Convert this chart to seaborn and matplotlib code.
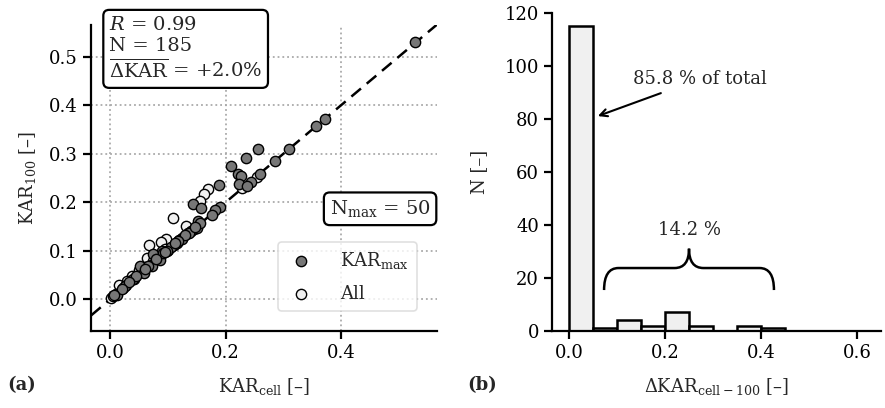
import numpy as np
import pandas as pd
import matplotlib
matplotlib.use('Agg')
import matplotlib.pyplot as plt
from matplotlib.path import Path
from matplotlib.patches import PathPatch
import seaborn as sns

# KAR_max points (one per sample)
kar_max_cell = [0.528, 0.372, 0.357, 0.310, 0.286, 0.256, 0.235, 0.210, 0.221, 0.227,
                0.223, 0.244, 0.260, 0.237, 0.189, 0.190, 0.182, 0.176, 0.143, 0.158,
                0.153, 0.150, 0.137, 0.124, 0.110, 0.089, 0.075, 0.087, 0.072, 0.052,
                0.058, 0.040, 0.026, 0.012, 0.155, 0.147, 0.130, 0.118, 0.105, 0.098,
                0.092, 0.080, 0.065, 0.045, 0.033, 0.020, 0.007, 0.113, 0.095, 0.060]
kar_max_100 = [0.530, 0.372, 0.357, 0.310, 0.286, 0.310, 0.292, 0.276, 0.259, 0.254,
               0.238, 0.243, 0.259, 0.233, 0.235, 0.191, 0.185, 0.175, 0.197, 0.189,
               0.161, 0.148, 0.137, 0.125, 0.112, 0.099, 0.093, 0.082, 0.069, 0.069,
               0.055, 0.041, 0.027, 0.010, 0.158, 0.150, 0.133, 0.121, 0.108, 0.100,
               0.095, 0.083, 0.068, 0.048, 0.036, 0.022, 0.009, 0.116, 0.098, 0.063]

# all cell points (mostly hidden behind KAR_max)
all_cell = [0.109, 0.170, 0.163, 0.156, 0.131, 0.097, 0.088, 0.068, 0.063, 0.037,
            0.016, 0.002, 0.254, 0.229, 0.050, 0.030, 0.075, 0.082, 0.120, 0.140,
            0.010, 0.022, 0.042, 0.055, 0.070, 0.085, 0.100, 0.115, 0.125, 0.135,
            0.145, 0.005, 0.028, 0.060, 0.095]
all_100 = [0.168, 0.228, 0.217, 0.203, 0.151, 0.125, 0.118, 0.113, 0.085, 0.049,
           0.029, 0.003, 0.252, 0.230, 0.060, 0.038, 0.080, 0.090, 0.122, 0.142,
           0.011, 0.023, 0.043, 0.056, 0.071, 0.086, 0.101, 0.116, 0.126, 0.136,
           0.146, 0.006, 0.030, 0.066, 0.103]

stats_r = 0.99
stats_n = 185
stats_dkar = 2.0
n_max = 50

# histogram of Delta KAR (bin centres, width 0.05)
bin_center = [0.025, 0.075, 0.125, 0.175, 0.225, 0.275, 0.325, 0.375, 0.425]
bin_count = [115, 1, 4, 2, 7, 2, 0, 2, 1]
bin_width = 0.05
pct_main = 85.8
pct_rest = 14.2

sns.set_theme(style='ticks')
plt.rcParams['font.family'] = ['DejaVu Serif']
plt.rcParams['mathtext.fontset'] = 'dejavuserif'
plt.rcParams['font.size'] = 13
plt.rcParams['axes.linewidth'] = 1.6
plt.rcParams['xtick.major.width'] = 1.6
plt.rcParams['ytick.major.width'] = 1.6
plt.rcParams['xtick.major.size'] = 6
plt.rcParams['ytick.major.size'] = 6
plt.rcParams['xtick.labelsize'] = 13
plt.rcParams['ytick.labelsize'] = 13
plt.rcParams['axes.labelsize'] = 13
plt.rcParams['xtick.color'] = 'black'
plt.rcParams['ytick.color'] = 'black'
plt.rcParams['axes.edgecolor'] = 'black'

fig = plt.figure(figsize=(8.85, 4.08), dpi=100)
ax1 = fig.add_axes([0.103, 0.189, 0.391, 0.750])
ax2 = fig.add_axes([0.624, 0.189, 0.372, 0.780])

# ---- (a) scatter
ax1.grid(True, linestyle=':', color='#aaaaaa', linewidth=1.3)
ax1.set_axisbelow(True)
ax1.axline((0, 0), slope=1, color='black', linestyle='--', linewidth=1.8, dashes=(5, 3), zorder=2)
df_all = pd.DataFrame({'x': all_cell, 'y': all_100})
df_max = pd.DataFrame({'x': kar_max_cell, 'y': kar_max_100})
sns.scatterplot(data=df_all, x='x', y='y', ax=ax1, color='#f0f0f0', edgecolor='black',
                linewidth=1.0, s=55, zorder=3, label='All')
sns.scatterplot(data=df_max, x='x', y='y', ax=ax1, color='#777777', edgecolor='black',
                linewidth=1.0, s=55, zorder=4, label=r'KAR$_{\rm max}$')
ax1.set_xlim(-0.033, 0.567)
ax1.set_ylim(-0.065, 0.566)
ax1.set_xticks([0.0, 0.2, 0.4])
ax1.set_yticks([0.0, 0.1, 0.2, 0.3, 0.4, 0.5])
ax1.set_xlabel(r'KAR$_{\rm cell}$ [–]', labelpad=10)
ax1.set_ylabel(r'KAR$_{100}$ [–]', labelpad=8)
sns.despine(ax=ax1)
h, l = ax1.get_legend_handles_labels()
leg = ax1.legend(h[::-1], l[::-1], loc='lower right', bbox_to_anchor=(0.968, 0.036),
                 handletextpad=1.4, handlelength=1.6, borderpad=0.45, labelspacing=0.75,
                 frameon=True, fontsize=13)
leg.get_frame().set_edgecolor('#d8d8d8')
leg.get_frame().set_linewidth(1.2)

box = dict(boxstyle='round,pad=0.3', facecolor='white', edgecolor='black', linewidth=1.6)
ax1.text(0.052, 1.03, '$R$ = %.2f\nN = %d\n' % (stats_r, stats_n)
         + r'$\overline{\Delta\mathrm{KAR}}$ = +%.1f%%' % stats_dkar,
         transform=ax1.transAxes, va='top', ha='left', fontsize=14, bbox=box,
         linespacing=1.2, clip_on=False, zorder=6)
ax1.text(0.835, 0.399, r'N$_{\rm max}$ = %d' % n_max, transform=ax1.transAxes,
         va='center', ha='center', fontsize=14, bbox=box, zorder=6)

# ---- (b) histogram
df_hist = pd.DataFrame({'dkar': bin_center, 'n': bin_count})
edges = list(np.arange(len(bin_center) + 1) * bin_width)
sns.histplot(data=df_hist, x='dkar', weights='n', bins=edges,
             ax=ax2, color='#f0f0f0', edgecolor='black', linewidth=1.8, alpha=1)
ax2.set_xlim(-0.035, 0.651)
ax2.set_ylim(0, 120)
ax2.set_xticks([0.0, 0.2, 0.4, 0.6])
ax2.set_yticks([0, 20, 40, 60, 80, 100, 120])
ax2.set_xlabel(r'$\Delta$KAR$_{\rm cell-100}$ [–]', labelpad=10)
ax2.set_ylabel('N [–]', labelpad=12)
sns.despine(ax=ax2)
ax2.annotate('%.1f %% of total' % pct_main, xy=(0.06, 81), xytext=(0.133, 95),
             ha='left', va='center', fontsize=13,
             arrowprops=dict(arrowstyle='->', color='black', linewidth=1.5,
                             shrinkA=4, shrinkB=0))

# curly brace
x0, x1, yb, ym, yt = 0.073, 0.427, 15.4, 23.7, 31.0
xc = (x0 + x1) / 2
dx = 0.03
verts = [(x0, yb), (x0, ym), (x0 + dx, ym), (xc - dx, ym), (xc, ym), (xc, yt),
         (xc, ym), (xc + dx, ym), (x1 - dx, ym), (x1, ym), (x1, yb)]
codes = [Path.MOVETO, Path.CURVE3, Path.CURVE3, Path.LINETO, Path.CURVE3, Path.CURVE3,
         Path.CURVE3, Path.CURVE3, Path.LINETO, Path.CURVE3, Path.CURVE3]
ax2.add_patch(PathPatch(Path(verts, codes), facecolor='none', edgecolor='black', linewidth=1.8))
ax2.text(xc, 38, '%.1f %%' % pct_rest, ha='center', va='center', fontsize=13)

fig.text(0.008, 0.045, '(a)', fontweight='bold', fontsize=13)
fig.text(0.528, 0.045, '(b)', fontweight='bold', fontsize=13)

fig.savefig('out.png', dpi=100)
